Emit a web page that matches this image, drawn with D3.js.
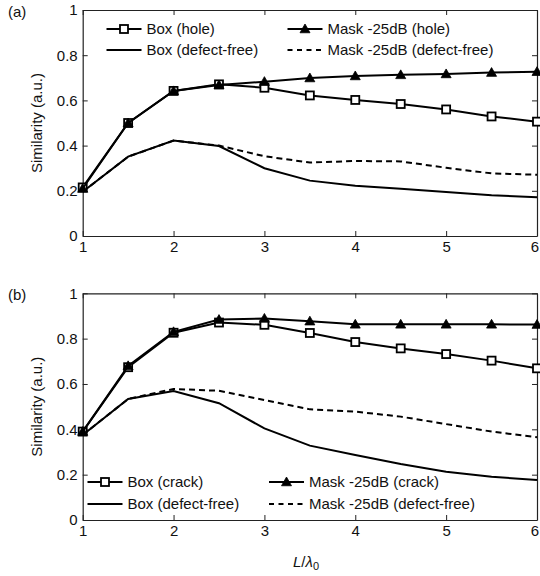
<!DOCTYPE html>
<html>
<head>
<meta charset="utf-8">
<script src="https://cdn.jsdelivr.net/npm/d3@7/dist/d3.min.js"></script>
<style>
  html, body { margin: 0; padding: 0; background: #fff; }
  svg { display: block; font-family: "Liberation Sans", Arial, Helvetica, sans-serif; }
</style>
</head>
<body>
<svg id="chart" width="540" height="576"></svg>
<script>
// ---- data ----
const xValues = [1, 1.5, 2, 2.5, 3, 3.5, 4, 4.5, 5, 5.5, 6];
const xTicks = [1, 2, 3, 4, 5, 6];
const yTicks = [0, 0.2, 0.4, 0.6, 0.8, 1];

const aBoxHole  = [0.215, 0.500, 0.642, 0.671, 0.656, 0.622, 0.602, 0.584, 0.560, 0.529, 0.506];
const aMaskHole = [0.210, 0.500, 0.642, 0.668, 0.683, 0.699, 0.708, 0.713, 0.717, 0.723, 0.727];
const aBoxFree  = [0.196, 0.351, 0.422, 0.398, 0.300, 0.245, 0.222, 0.209, 0.195, 0.180, 0.172];
const aMaskFree = [0.196, 0.351, 0.422, 0.400, 0.353, 0.325, 0.332, 0.330, 0.302, 0.277, 0.271];

const bBoxCrack  = [0.390, 0.674, 0.826, 0.871, 0.861, 0.825, 0.785, 0.757, 0.732, 0.703, 0.669];
const bMaskCrack = [0.390, 0.680, 0.830, 0.884, 0.889, 0.877, 0.863, 0.863, 0.863, 0.863, 0.862];
const bBoxFree   = [0.375, 0.534, 0.569, 0.515, 0.404, 0.328, 0.287, 0.247, 0.213, 0.191, 0.176];
const bMaskFree  = [0.375, 0.534, 0.578, 0.570, 0.529, 0.488, 0.478, 0.456, 0.423, 0.390, 0.365];

const panelA = {
  label: "(a)",
  series: [
    { name: "Box (defect-free)", values: aBoxFree, dash: null, marker: null },
    { name: "Mask -25dB (defect-free)", values: aMaskFree, dash: "6,4", marker: null },
    { name: "Box (hole)", values: aBoxHole, dash: null, marker: "square" },
    { name: "Mask -25dB (hole)", values: aMaskHole, dash: null, marker: "triangle" }
  ]
};
const panelB = {
  label: "(b)",
  series: [
    { name: "Box (defect-free)", values: bBoxFree, dash: null, marker: null },
    { name: "Mask -25dB (defect-free)", values: bMaskFree, dash: "6,4", marker: null },
    { name: "Box (crack)", values: bBoxCrack, dash: null, marker: "square" },
    { name: "Mask -25dB (crack)", values: bMaskCrack, dash: null, marker: "triangle" }
  ]
};

// ---- layout ----
const svg = d3.select("#chart");
const left = 82.7, right = 537;
const FS = 15;

function drawMarker(g, type, cx, cy) {
  if (type === "square") {
    g.append("rect").attr("x", cx - 4).attr("y", cy - 4).attr("width", 8).attr("height", 8)
      .attr("fill", "#fff").attr("stroke", "#000").attr("stroke-width", 1.8);
  } else if (type === "triangle") {
    const s = 5;
    g.append("path")
      .attr("d", `M${cx},${cy - s}L${cx + s},${cy + s * 0.75}L${cx - s},${cy + s * 0.75}Z`)
      .attr("fill", "#000").attr("stroke", "#000").attr("stroke-width", 0.8);
  }
}

function drawPanel(panel, top, bottom, legendSpec) {
  const x = d3.scaleLinear().domain([1, 6]).range([left, right]);
  const y = d3.scaleLinear().domain([0, 1]).range([bottom, top]);
  const g = svg.append("g");

  // axes (ticks inward)
  const axB = g.append("g").attr("transform", `translate(0,${bottom})`)
    .call(d3.axisBottom(x).tickValues(xTicks).tickFormat(d3.format("d")).tickSizeInner(-5).tickSizeOuter(0).tickPadding(5));
  const axT = g.append("g").attr("transform", `translate(0,${top})`)
    .call(d3.axisTop(x).tickValues(xTicks).tickFormat("").tickSizeInner(-5).tickSizeOuter(0));
  const axL = g.append("g").attr("transform", `translate(${left},0)`)
    .call(d3.axisLeft(y).tickValues(yTicks).tickFormat(d => d === 0 ? "0" : d === 1 ? "1" : d3.format(".1f")(d)).tickSizeInner(-5).tickSizeOuter(0).tickPadding(5));
  const axR = g.append("g").attr("transform", `translate(${right},0)`)
    .call(d3.axisRight(y).tickValues(yTicks).tickFormat("").tickSizeInner(-5).tickSizeOuter(0));
  [axB, axT, axL, axR].forEach(a => {
    a.selectAll("path").attr("stroke", "#222").attr("stroke-width", 1.2);
    a.selectAll("line").attr("stroke", "#222").attr("stroke-width", 1);
    a.selectAll("text").attr("font-size", FS).attr("fill", "#111")
      .attr("font-family", '"Liberation Sans", Arial, Helvetica, sans-serif');
  });
  // keep the last x label inside the page
  axB.selectAll(".tick text").filter(d => d === 6).attr("dx", -2.5);

  // y-axis title
  g.append("text")
    .attr("transform", `translate(42,${(top + bottom) / 2}) rotate(-90)`)
    .attr("text-anchor", "middle").attr("font-size", FS).attr("fill", "#111")
    .text("Similarity (a.u.)");

  // panel label
  g.append("text").attr("x", 8).attr("y", top + 7).attr("font-size", FS).attr("fill", "#111").text(panel.label);

  // series
  const line = d3.line().x((d, i) => x(xValues[i])).y(d => y(d));
  panel.series.forEach(s => {
    g.append("path").datum(s.values).attr("d", line)
      .attr("fill", "none").attr("stroke", "#000").attr("stroke-width", 2)
      .attr("stroke-dasharray", s.dash);
    if (s.marker) {
      const mg = g.append("g");
      s.values.forEach((v, i) => drawMarker(mg, s.marker, x(xValues[i]), y(v)));
    }
  });

  // legend
  legendSpec.forEach(item => {
    const s = panel.series.find(d => d.name === item.name);
    const lg = g.append("g");
    lg.append("line").attr("x1", item.x).attr("x2", item.x + 35).attr("y1", item.y).attr("y2", item.y)
      .attr("stroke", "#000").attr("stroke-width", 2).attr("stroke-dasharray", s.dash ? "5,4.5" : null);
    if (s.marker) drawMarker(lg, s.marker, item.x + 17.5, item.y);
    lg.append("text").attr("x", item.x + 40).attr("y", item.y).attr("dy", "0.35em")
      .attr("font-size", FS).attr("fill", "#111").text(s.name);
  });
}

drawPanel(panelA, 10, 236, [
  { name: "Box (hole)", x: 106.5, y: 29 },
  { name: "Box (defect-free)", x: 106.5, y: 50 },
  { name: "Mask -25dB (hole)", x: 287.5, y: 29 },
  { name: "Mask -25dB (defect-free)", x: 287.5, y: 50 }
]);
drawPanel(panelB, 293.3, 520, [
  { name: "Box (crack)", x: 87.5, y: 482 },
  { name: "Box (defect-free)", x: 87.5, y: 504 },
  { name: "Mask -25dB (crack)", x: 269, y: 482 },
  { name: "Mask -25dB (defect-free)", x: 269, y: 504 }
]);

// x-axis title
const xt = svg.append("text").attr("x", 293).attr("y", 567).attr("font-size", FS).attr("fill", "#111");
xt.append("tspan").attr("font-style", "italic").text("L");
xt.append("tspan").text("/");
xt.append("tspan").attr("font-style", "italic").text("λ");
xt.append("tspan").attr("font-size", 11).attr("dy", 3).text("0");
</script>
</body>
</html>
